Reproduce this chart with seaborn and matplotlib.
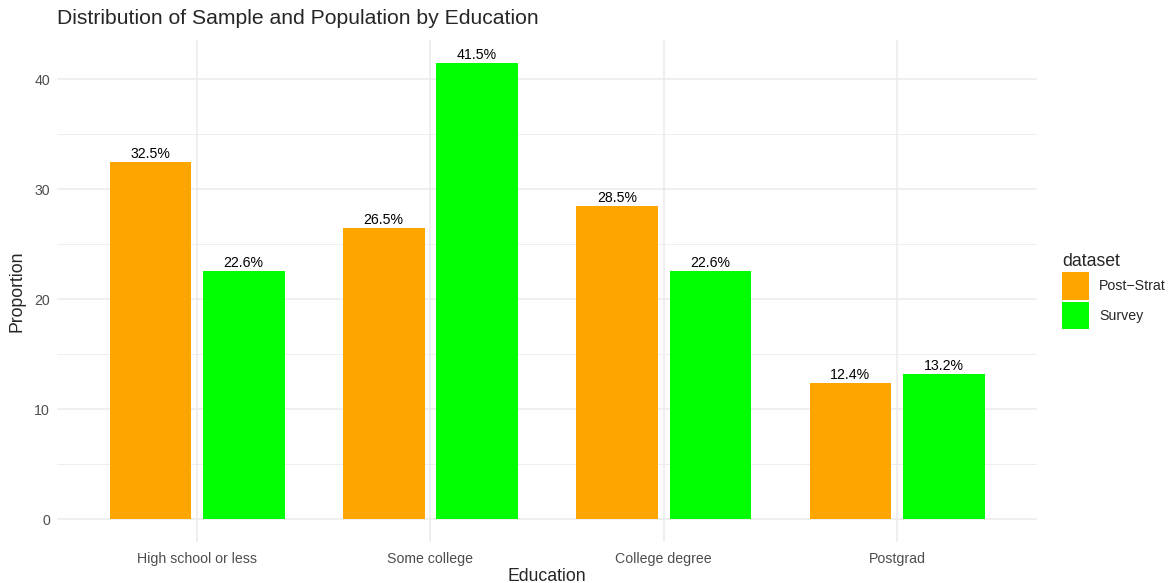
import pandas as pd
import numpy as np
import matplotlib
matplotlib.use("Agg")
import matplotlib.pyplot as plt
import seaborn as sns
from matplotlib.patches import Patch

categories = ["High school or less", "Some college", "College degree", "Postgrad"]
post_strat = [32.5, 26.5, 28.5, 12.4]
survey = [22.6, 41.5, 22.6, 13.2]
datasets = ["Post\u2212Strat", "Survey"]
colors = ["#FFA500", "#00FF00"]

df = pd.DataFrame({
    "Education": categories * 2,
    "Proportion": post_strat + survey,
    "dataset": [datasets[0]] * 4 + [datasets[1]] * 4,
})

sns.set_style("white")
plt.rcParams["font.family"] = ["Liberation Sans", "DejaVu Sans"]

W, H = 1176, 583
fig = plt.figure(figsize=(W / 100, H / 100), dpi=100)
ax = fig.add_axes([57 / W, (H - 542) / H, 980 / W, (542 - 40) / H])

sns.barplot(data=df, x="Education", y="Proportion", hue="dataset",
            order=categories, hue_order=datasets, palette=colors,
            width=0.8, gap=0.125, saturation=1, legend=False, ax=ax,
            edgecolor="none", linewidth=0, zorder=3)

for cont in ax.containers:
    ax.bar_label(cont, fmt="%.1f%%", padding=0.5, fontsize=10.2, color="black")

ax.set_xlim(-0.6, 3.6)
ax.set_ylim(-2.075, 43.575)
ax.set_yticks([0, 10, 20, 30, 40])
ax.set_yticks([5, 15, 25, 35], minor=True)
ax.grid(True, which="major", color="#EBEBEB", linewidth=1.1, zorder=0)
ax.grid(True, which="minor", axis="y", color="#EBEBEB", linewidth=0.6, zorder=0)
ax.set_axisbelow(True)
for s in ax.spines.values():
    s.set_visible(False)
ax.tick_params(axis="both", which="both", length=0, labelsize=10.2, labelcolor="#4D4D4D")
ax.tick_params(axis="x", pad=7)
ax.tick_params(axis="y", pad=5)

ax.set_xlabel("Education", fontsize=12.7, labelpad=1.5)
ax.set_ylabel("Proportion", fontsize=12.7, labelpad=6)
fig.text(57 / W, 1 - 18 / H, "Distribution of Sample and Population by Education",
         fontsize=15.25, va="center", ha="left")

handles = [Patch(facecolor=c, edgecolor="none") for c in colors]
leg = fig.legend(handles, datasets, title="dataset", loc="upper left",
                 bbox_to_anchor=(1062 / W, 1 - 253 / H), frameon=False,
                 fontsize=10.2, title_fontsize=12.7, handlelength=1.9,
                 handleheight=2.6, handletextpad=0.7, labelspacing=0.15,
                 borderaxespad=0, borderpad=0)
leg._legend_box.align = "left"

fig.savefig("out.png", dpi=100)
